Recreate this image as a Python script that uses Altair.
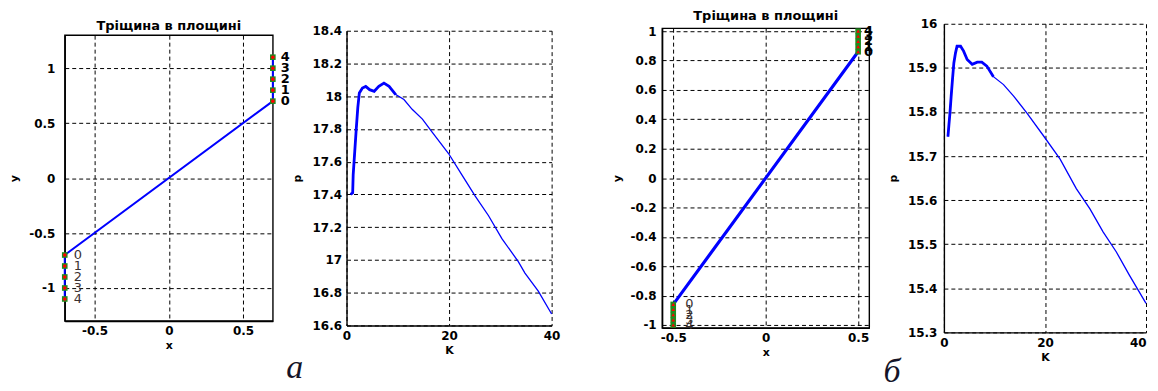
import altair as alt
import pandas as pd

FONT = "DejaVu Sans"
title_text = "Тріщина в площині"
point_labels = ["0", "1", "2", "3", "4"]
letter_a = "а"
letter_b = "б"

# ---- panel а (left): crack in the plane ----
line_a_x = [-0.7, -0.7, 0.7, 0.7]
line_a_y = [-1.1, -0.7, 0.7, 1.1]
mark_a_xr = 0.7
mark_a_xl = -0.7
mark_a_right_y = [0.7, 0.8, 0.9, 1.0, 1.1]
mark_a_left_y = [-0.7, -0.8, -0.9, -1.0, -1.1]

# ---- panel а (right): p vs K ----
K_a = [0.8, 1.2, 1.3, 1.6, 1.9, 2.2, 2.5, 3.1, 3.75, 4.5, 5.4, 6.3, 7.3, 8.3,
       9.6, 11.2, 12.8, 14.8, 16.7, 19.9, 22.5, 25.1, 27.7, 30.3, 33.5, 34.8,
       37.4, 40.0]
p_a = [17.40, 17.41, 17.52, 17.66, 17.80, 17.93, 18.02, 18.05, 18.06, 18.04,
       18.03, 18.06, 18.08, 18.06, 18.01, 17.98, 17.92, 17.86, 17.78, 17.65,
       17.52, 17.39, 17.27, 17.13, 16.99, 16.92, 16.81, 16.67]

# ---- panel б (left) ----
line_b_x = [-0.5, -0.5, 0.5, 0.5]
line_b_y = [-1.0, -0.86, 0.86, 1.0]
mark_b_xr = 0.5
mark_b_xl = -0.5
mark_b_right_y = [0.86, 0.895, 0.93, 0.965, 1.0]
mark_b_left_y = [-0.86, -0.895, -0.93, -0.965, -1.0]

# ---- panel б (right) ----
K_b = [0.8, 1.0, 1.2, 1.44, 1.7, 1.97, 2.3, 2.6, 3.3, 3.9, 4.6, 5.6, 6.6, 7.5,
       8.5, 9.8, 11.8, 13.8, 16.4, 19.7, 23.0, 26.2, 28.9, 31.5, 34.1, 36.7, 40.0]
p_b = [15.744, 15.772, 15.798, 15.836, 15.874, 15.911, 15.934, 15.949, 15.949,
       15.938, 15.919, 15.908, 15.913, 15.913, 15.904, 15.880, 15.862, 15.836,
       15.798, 15.746, 15.693, 15.626, 15.580, 15.528, 15.483, 15.430, 15.366]

xa_ticks = [-0.5, 0, 0.5]
ya_ticks = [-1, -0.5, 0, 0.5, 1]
xb_ticks = [-0.5, 0, 0.5]
yb_ticks = [-1, -0.8, -0.6, -0.4, -0.2, 0, 0.2, 0.4, 0.6, 0.8, 1]
k_ticks = [0, 20, 40]
pa_ticks = [16.6, 16.8, 17.0, 17.2, 17.4, 17.6, 17.8, 18.0, 18.2, 18.4]
pb_ticks = [15.3, 15.4, 15.5, 15.6, 15.7, 15.8, 15.9, 16.0]


def ax(values, title, label_pad=6, title_pad=4, last_right=False):
    extra = {}
    if last_right:
        extra["labelAlign"] = {"condition": {"test": "datum.value >= 40", "value": "right"},
                               "value": "center"}
    return alt.Axis(values=values, title=title, grid=True, gridColor="black",
                    gridDash=[4, 3], gridOpacity=1, gridWidth=1,
                    domainColor="black", domainWidth=1.4, ticks=False,
                    labelFont=FONT, labelFontWeight="bold", labelFontSize=12,
                    labelColor="black", labelPadding=label_pad, titleFont=FONT,
                    titleFontWeight="bold", titleFontSize=11, titleColor="black",
                    titlePadding=title_pad,
                    format=".4~r", labelExpr="replace(datum.label, '−', '-')",
                    labelFlush=False, labelOverlap=False, **extra)


def crack_panel(lx, ly, xr, xl, ry, lyy, xdom, ydom, xt, yt, lw, w, h, dot_shape,
                lab_dx_r, lab_dx_l, ypad, ytpad):
    xs = alt.Scale(domain=xdom, nice=False, zero=False)
    ys = alt.Scale(domain=ydom, nice=False, zero=False)
    X = alt.X("x:Q", scale=xs, axis=ax(xt, "x", 5, 3))
    Y = alt.Y("y:Q", scale=ys, axis=ax(yt, "y", ypad, ytpad))
    dl = pd.DataFrame({"x": lx, "y": ly, "o": list(range(len(lx)))})
    line = alt.Chart(dl).mark_line(color="#0000ff", strokeWidth=lw).encode(x=X, y=Y, order="o:Q")
    dr = pd.DataFrame({"x": [xr] * 5, "y": ry, "t": point_labels})
    dlf = pd.DataFrame({"x": [xl] * 5, "y": lyy, "t": point_labels})
    dm = pd.concat([dr, dlf])
    sq = alt.Chart(dm).mark_square(size=32, color="#1e8c1e", opacity=1).encode(x=X, y=Y)
    dot = alt.Chart(dm).mark_point(shape=dot_shape, size=13, color="#ff0000", filled=True, opacity=1).encode(x=X, y=Y)
    tr = alt.Chart(dr).mark_text(align="left", baseline="middle", dx=lab_dx_r, font=FONT,
                                 fontSize=13, fontWeight="bold", color="black").encode(x=X, y=Y, text="t:N")
    tl = alt.Chart(dlf).mark_text(align="left", baseline="middle", dx=lab_dx_l, font=FONT,
                                  fontSize=13, color="#3a3030").encode(x=X, y=Y, text="t:N")
    return alt.layer(line, sq, dot, tr, tl).properties(
        width=w, height=h,
        title=alt.TitleParams(title_text, font=FONT, fontSize=13, fontWeight="bold", color="black", offset=2),
        view=alt.ViewBackground(stroke="black", strokeWidth=1.4),
    )


def p_panel(K, p, ydom, yt, w, h, letter, lx, ly, ypad, ytpad, last_right):
    xs = alt.Scale(domain=[0, 40], nice=False, zero=False)
    ys = alt.Scale(domain=ydom, nice=False, zero=False)
    X = alt.X("K:Q", scale=xs, axis=ax(k_ticks, "K", 5, 3, last_right))
    Y = alt.Y("p:Q", scale=ys, axis=ax(yt, "p", ypad, ytpad))
    d = pd.DataFrame({"K": K, "p": p})
    thin = alt.Chart(d).mark_line(color="#0000ff", strokeWidth=1.3).encode(x=X, y=Y)
    thick = alt.Chart(d).transform_filter("datum.K <= 11").mark_line(color="#0000ff", strokeWidth=2.8).encode(x=X, y=Y)
    lt = alt.Chart(pd.DataFrame({"t": [letter]})).mark_text(
        font="Liberation Serif", fontStyle="italic", fontSize=34, color="#141428",
        align="center", baseline="alphabetic").encode(x=alt.value(lx), y=alt.value(ly), text="t:N")
    return alt.layer(thin, thick, lt).properties(width=w, height=h)


def spacer(w):
    return alt.Chart(pd.DataFrame({"v": [0]})).mark_point(opacity=0).encode(
        x=alt.value(0), y=alt.value(0)).properties(width=w, height=1)


p1 = crack_panel(line_a_x, line_a_y, mark_a_xr, mark_a_xl, mark_a_right_y, mark_a_left_y,
                 [-0.7, 0.7], [-1.3, 1.3], xa_ticks, ya_ticks, 2, 209, 287, "circle", 8, 9, 10, 9)
p2 = p_panel(K_a, p_a, [16.6, 18.4], pa_ticks, 206, 296, letter_a, -52, 348.5, 5, 10, False)
p3 = crack_panel(line_b_x, line_b_y, mark_b_xr, mark_b_xl, mark_b_right_y, mark_b_left_y,
                 [-0.56, 0.56], [-1.02, 1.02], xb_ticks, yb_ticks, 3.2, 208, 301, "triangle-up", 6, 12, 6, 8)
p4 = p_panel(K_b, p_b, [15.3, 16.0], pb_ticks, 203, 310, letter_b, -52, 359.5, 7, 9, True)

chart = alt.hconcat(p1, spacer(1), p2, spacer(38), p3, spacer(2), p4,
                    spacing=36.5, bounds="flush", center=True).properties(
    padding={"left": 0, "top": 0, "right": 0, "bottom": -6}
).configure_view(stroke="transparent")

chart.save("out.html", embed_options={"renderer": "svg", "actions": False})
